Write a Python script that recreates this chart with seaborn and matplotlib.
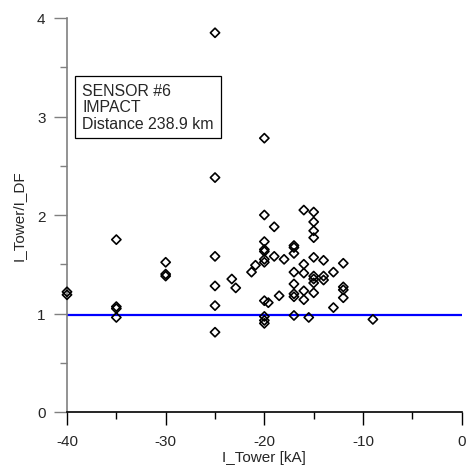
import matplotlib
matplotlib.use("Agg")
import matplotlib.pyplot as plt
import numpy as np
import pandas as pd
import seaborn as sns
from matplotlib.ticker import MultipleLocator

i_tower = (
    [-40, -40]
    + [-35, -35, -35, -35]
    + [-30, -30, -30]
    + [-25, -25, -25, -25, -25, -25]
    + [-23.3, -22.9, -21.3, -20.9]
    + [-20] * 11
    + [-19.6, -19, -19, -18.5, -18]
    + [-17] * 8
    + [-16] * 5
    + [-15.5]
    + [-15] * 9
    + [-14] * 3
    + [-13, -13]
    + [-12] * 4
    + [-9]
)
ratio = (
    [1.22, 1.19]
    + [1.75, 1.07, 1.05, 0.96]
    + [1.52, 1.40, 1.38]
    + [3.85, 2.38, 1.58, 1.28, 1.08, 0.81]
    + [1.35, 1.26, 1.42, 1.49]
    + [2.78, 2.00, 1.73, 1.65, 1.63, 1.55, 1.52, 1.13, 0.97, 0.93, 0.90]
    + [1.11, 1.88, 1.58, 1.18, 1.55]
    + [1.69, 1.67, 1.61, 1.42, 1.30, 1.20, 1.17, 0.98]
    + [2.05, 1.50, 1.41, 1.23, 1.14]
    + [0.96]
    + [2.03, 1.93, 1.84, 1.77, 1.57, 1.38, 1.35, 1.31, 1.21]
    + [1.54, 1.38, 1.34]
    + [1.42, 1.06]
    + [1.51, 1.27, 1.24, 1.16]
    + [0.94]
)
ref_level = 0.985
box_lines = ["SENSOR #6", "IMPACT", "Distance 238.9 km"]

df = pd.DataFrame({"I_Tower": i_tower, "ratio": ratio})

sns.set_style("white")
plt.rcParams["font.family"] = ["Liberation Sans", "DejaVu Sans"]
plt.rcParams["axes.unicode_minus"] = False

fig = plt.figure(figsize=(4.69, 4.77), dpi=100)
ax = fig.add_axes([67 / 469, 64 / 477, 394.7 / 469, 394 / 477])

sns.scatterplot(
    data=df, x="I_Tower", y="ratio", ax=ax, marker="D", s=22,
    facecolor="none", edgecolor="black", linewidth=1.2, zorder=3,
    clip_on=False,
)
ax.plot([-40, 0], [ref_level, ref_level], color="#0000ff", lw=1.6, zorder=2)

ax.set_xlim(-40, 0)
ax.set_ylim(0, 4)
ax.xaxis.set_major_locator(MultipleLocator(10))
ax.xaxis.set_minor_locator(MultipleLocator(5))
ax.yaxis.set_major_locator(MultipleLocator(1))
ax.yaxis.set_minor_locator(MultipleLocator(0.5))

for side in ["top", "right"]:
    ax.spines[side].set_visible(False)
ax.spines["left"].set_color("#808080")
ax.spines["bottom"].set_color("black")
ax.spines["left"].set_linewidth(1.2)
ax.spines["bottom"].set_linewidth(1.2)

ax.tick_params(axis="both", which="major", direction="out", length=9.5,
               width=1, labelsize=11, pad=6, bottom=True, left=True)
ax.tick_params(axis="both", which="minor", direction="out", length=5,
               width=1, bottom=True, left=True)
ax.tick_params(axis="y", which="both", color="#808080")
ax.tick_params(axis="x", which="both", color="black")

ax.set_xlabel("I_Tower [kA]", fontsize=11, labelpad=2)
ax.set_ylabel("I_Tower/I_DF", fontsize=11, labelpad=8)

ax.text((82 - 67) / 394.7, (413 - 84) / 394, "\n".join(box_lines),
        transform=ax.transAxes, ha="left", va="top", fontsize=11.4,
        linespacing=1.12,
        bbox=dict(boxstyle="square,pad=0.45", facecolor="white",
                  edgecolor="black", linewidth=0.9))

fig.savefig("out.png", dpi=100)
